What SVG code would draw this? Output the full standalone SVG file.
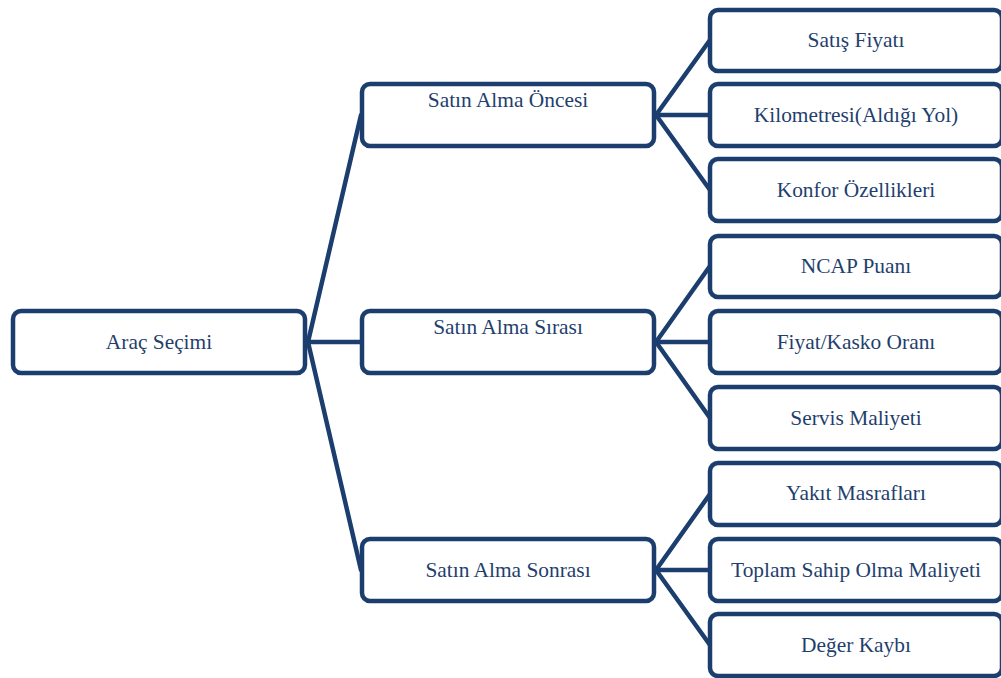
<svg xmlns="http://www.w3.org/2000/svg" width="1001" height="678" viewBox="0 0 1001 678">
<style>
.box{fill:#ffffff;stroke:#1c3e6e;stroke-width:4.5}
.con{stroke:#1c3e6e;stroke-width:4.5;fill:none;stroke-linecap:round}
text{font-family:"Liberation Serif","Times New Roman",serif;font-size:21.4px;fill:#1f3f6e;text-anchor:middle}
</style>
<rect width="1001" height="678" fill="#ffffff"/>
<g id="connectors">
<line class="con" x1="308" y1="342" x2="361" y2="115"/>
<line class="con" x1="308" y1="342" x2="361" y2="342"/>
<line class="con" x1="308" y1="342" x2="361" y2="570"/>
<line class="con" x1="656" y1="115" x2="710" y2="40"/>
<line class="con" x1="656" y1="115" x2="710" y2="115"/>
<line class="con" x1="656" y1="115" x2="710" y2="190"/>
<line class="con" x1="656" y1="342" x2="710" y2="266"/>
<line class="con" x1="656" y1="342" x2="710" y2="342"/>
<line class="con" x1="656" y1="342" x2="710" y2="418"/>
<line class="con" x1="656" y1="570" x2="710" y2="494"/>
<line class="con" x1="656" y1="570" x2="710" y2="570"/>
<line class="con" x1="656" y1="570" x2="710" y2="645"/>
</g>
<g id="root"><rect class="box" x="13" y="311" width="292" height="62" rx="8"/><text x="159" y="349">Araç Seçimi</text></g>
<g id="once"><rect class="box" x="362" y="84" width="292" height="62" rx="8"/><text x="508" y="107">Satın Alma Öncesi</text></g>
<g id="sirasi"><rect class="box" x="362" y="311" width="292" height="62" rx="8"/><text x="508" y="334">Satın Alma Sırası</text></g>
<g id="sonrasi"><rect class="box" x="362" y="539" width="292" height="62" rx="8"/><text x="508" y="577">Satın Alma Sonrası</text></g>
<g id="leaf1"><rect class="box" x="710" y="10" width="292" height="61" rx="8"/><text x="856" y="47">Satış Fiyatı</text></g>
<g id="leaf2"><rect class="box" x="710" y="84" width="292" height="62" rx="8"/><text x="856" y="122">Kilometresi(Aldığı Yol)</text></g>
<g id="leaf3"><rect class="box" x="710" y="159" width="292" height="62" rx="8"/><text x="856" y="197">Konfor Özellikleri</text></g>
<g id="leaf4"><rect class="box" x="710" y="236" width="292" height="61" rx="8"/><text x="856" y="273">NCAP Puanı</text></g>
<g id="leaf5"><rect class="box" x="710" y="311" width="292" height="62" rx="8"/><text x="856" y="349">Fiyat/Kasko Oranı</text></g>
<g id="leaf6"><rect class="box" x="710" y="387" width="292" height="62" rx="8"/><text x="856" y="425">Servis Maliyeti</text></g>
<g id="leaf7"><rect class="box" x="710" y="463" width="292" height="62" rx="8"/><text x="856" y="500">Yakıt Masrafları</text></g>
<g id="leaf8"><rect class="box" x="710" y="539" width="292" height="62" rx="8"/><text x="856" y="577">Toplam Sahip Olma Maliyeti</text></g>
<g id="leaf9"><rect class="box" x="710" y="614" width="292" height="62" rx="8"/><text x="856" y="652">Değer Kaybı</text></g>
</svg>
